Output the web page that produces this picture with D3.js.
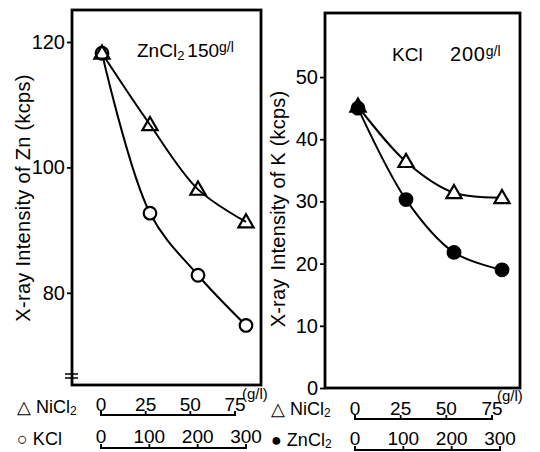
<!DOCTYPE html>
<html><head><meta charset="utf-8">
<script src="https://cdn.jsdelivr.net/npm/d3@7"></script>
<style>body{margin:0;background:#fff}text{font-family:"Liberation Sans",Arial,sans-serif;fill:#000}</style>
</head><body>
<svg id="c" width="540" height="452"></svg>
<script>
// Left panel: ZnCl2 150 g/l, intensity of Zn
const leftNiCl2Conc = [0, 25, 50, 75];
const leftNiCl2Zn = [118.2, 106.8, 96.5, 91.3];
const leftKClConc = [0, 100, 200, 300];
const leftKClZn = [118.2, 92.7, 82.8, 74.8];
const leftYTicks = [80, 100, 120];
// Right panel: KCl 200 g/l, intensity of K
const rightNiCl2Conc = [0, 25, 50, 75];
const rightNiCl2K = [45.3, 36.4, 31.4, 30.6];
const rightZnCl2Conc = [0, 100, 200, 300];
const rightZnCl2K = [45.0, 30.3, 21.8, 19.0];
const rightYTicks = [0, 10, 20, 30, 40, 50];
const niTicks = [0, 25, 50, 75];
const secTicks = [0, 100, 200, 300];

const svg = d3.select("#c");
const FS = 20;

function triangle(g, x, y, fill) {
  g.append("path").attr("d", d3.symbol().type(d3.symbolTriangle).size(100)())
    .attr("transform", `translate(${x},${y + 1})`)
    .attr("fill", fill).attr("stroke", "#000").attr("stroke-width", 2.2);
}
function circle(g, x, y, fill) {
  g.append("circle").attr("cx", x).attr("cy", y).attr("r", 6.3)
    .attr("fill", fill).attr("stroke", "#000").attr("stroke-width", 2.2);
}
function bottomAxis(scale, ticks, y, labelY) {
  const [a, b] = scale.range();
  svg.append("path").attr("d", `M${a},${y - 4}L${a},${y}L${b},${y}L${b},${y - 4}`)
    .attr("fill", "none").attr("stroke", "#000").attr("stroke-width", 2);
  ticks.forEach(t => {
    svg.append("line").attr("x1", scale(t)).attr("x2", scale(t)).attr("y1", y).attr("y2", y - 4)
      .attr("stroke", "#000").attr("stroke-width", 1.8);
    svg.append("text").attr("x", scale(t)).attr("y", labelY).attr("text-anchor", "middle")
      .attr("font-size", 19).text(t);
  });
}

// ---------- left panel ----------
const L = {x0: 72, x1: 261, y0: 10, y1: 385};
const yL = d3.scaleLinear().domain([65.3, 125.1]).range([L.y1, L.y0]);
const xLni = d3.scaleLinear().domain([0, 75]).range([102, 246]);   // data positions
const xLk = d3.scaleLinear().domain([0, 300]).range([102, 246]);
const xLniAxis = d3.scaleLinear().domain([0, 75]).range([101, 235]);
const xLkAxis = d3.scaleLinear().domain([0, 300]).range([101, 246]);

svg.append("rect").attr("x", L.x0).attr("y", L.y0).attr("width", L.x1 - L.x0).attr("height", L.y1 - L.y0)
  .attr("fill", "none").attr("stroke", "#000").attr("stroke-width", 2.8);
const gyL = svg.append("g").attr("transform", `translate(${L.x0},0)`)
  .call(d3.axisLeft(yL).tickValues(leftYTicks).tickSize(5).tickPadding(2));
gyL.select(".domain").remove();
gyL.selectAll("line").attr("stroke-width", 1.8);
gyL.selectAll("text").attr("font-size", FS).attr("font-family", "Liberation Sans, Arial, sans-serif");
// axis break
svg.append("path").attr("d", "M65,374L78,374M65,378L78,378").attr("stroke", "#000").attr("stroke-width", 1.5);

const line = d3.curveCatmullRom.alpha(0.5);
const gL = svg.append("g");
gL.append("path").datum(leftNiCl2Conc.map((c, i) => [xLni(c), yL(leftNiCl2Zn[i])]))
  .attr("d", d3.line().curve(line)).attr("fill", "none").attr("stroke", "#000").attr("stroke-width", 2);
gL.append("path").datum(leftKClConc.map((c, i) => [xLk(c), yL(leftKClZn[i])]))
  .attr("d", d3.line().curve(line)).attr("fill", "none").attr("stroke", "#000").attr("stroke-width", 2);
leftKClConc.forEach((c, i) => circle(gL, xLk(c), yL(leftKClZn[i]), "#fff"));
leftNiCl2Conc.forEach((c, i) => triangle(gL, xLni(c), yL(leftNiCl2Zn[i]), "none"));

svg.append("text").attr("transform", "translate(30,198) rotate(-90)").attr("text-anchor", "middle")
  .attr("font-size", 20).attr("letter-spacing", 0.3).text("X-ray  Intensity of Zn (kcps)");
const tL = svg.append("text").attr("x", 137).attr("y", 57).attr("font-size", 19);
tL.append("tspan").text("ZnCl");
tL.append("tspan").attr("font-size", 13).attr("dy", 3).text("2");
tL.append("tspan").attr("dy", -3).attr("dx", 3).text("150");
tL.append("tspan").attr("font-size", 14).attr("dy", -5).text("g/l");

bottomAxis(xLniAxis, niTicks, 415, 411);
bottomAxis(xLkAxis, secTicks, 448, 443);
svg.append("text").attr("x", 242).attr("y", 399).attr("font-size", 15).text("(g/l)");
const bl1 = svg.append("text").attr("x", 17).attr("y", 413).attr("font-size", 18);
bl1.append("tspan").text("△ NiCl");
bl1.append("tspan").attr("font-size", 12).attr("dy", 2).text("2");
svg.append("text").attr("x", 17).attr("y", 445).attr("font-size", 18).text("○ KCl");

// ---------- right panel ----------
const R = {x0: 325, x1: 520, y0: 13, y1: 388};
const yR = d3.scaleLinear().domain([0, 60.3]).range([R.y1, R.y0]);
const xRni = d3.scaleLinear().domain([0, 75]).range([358, 502]);
const xRzn = d3.scaleLinear().domain([0, 300]).range([358, 502]);
const xRniAxis = d3.scaleLinear().domain([0, 75]).range([355, 492]);
const xRznAxis = d3.scaleLinear().domain([0, 300]).range([355, 500]);

svg.append("rect").attr("x", R.x0).attr("y", R.y0).attr("width", R.x1 - R.x0).attr("height", R.y1 - R.y0)
  .attr("fill", "none").attr("stroke", "#000").attr("stroke-width", 2.8);
const gyR = svg.append("g").attr("transform", `translate(${R.x0},0)`)
  .call(d3.axisLeft(yR).tickValues(rightYTicks).tickSize(5).tickPadding(2));
gyR.select(".domain").remove();
gyR.selectAll("line").attr("stroke-width", 1.8);
gyR.selectAll("text").attr("font-size", FS).attr("font-family", "Liberation Sans, Arial, sans-serif");

const gR = svg.append("g");
gR.append("path").datum(rightNiCl2Conc.map((c, i) => [xRni(c), yR(rightNiCl2K[i])]))
  .attr("d", d3.line().curve(line)).attr("fill", "none").attr("stroke", "#000").attr("stroke-width", 2);
gR.append("path").datum(rightZnCl2Conc.map((c, i) => [xRzn(c), yR(rightZnCl2K[i])]))
  .attr("d", d3.line().curve(line)).attr("fill", "none").attr("stroke", "#000").attr("stroke-width", 2);
rightZnCl2Conc.forEach((c, i) => circle(gR, xRzn(c), yR(rightZnCl2K[i]), "#000"));
rightNiCl2Conc.forEach((c, i) => triangle(gR, xRni(c), yR(rightNiCl2K[i]), i === 0 ? "#000" : "#fff"));

const yt = svg.append("text").attr("transform", "translate(285,209) rotate(-90)").attr("text-anchor", "middle")
  .attr("font-size", 20).attr("letter-spacing", 0.2);
yt.append("tspan").text("X-ray");
yt.append("tspan").attr("dx", 8).text("Intensity of K (kcps)");
svg.append("text").attr("x", 392).attr("y", 61).attr("font-size", 19).text("KCl");
const tR = svg.append("text").attr("x", 450).attr("y", 61).attr("font-size", 20).attr("letter-spacing", 0.8);
tR.append("tspan").text("200");
tR.append("tspan").attr("font-size", 14).attr("letter-spacing", 0).attr("dy", -5).text("g/l");

bottomAxis(xRniAxis, niTicks, 419, 415);
bottomAxis(xRznAxis, secTicks, 450, 445);
svg.append("text").attr("x", 497).attr("y", 401).attr("font-size", 15).text("(g/l)");
const br1 = svg.append("text").attr("x", 271).attr("y", 415).attr("font-size", 18);
br1.append("tspan").text("△ NiCl");
br1.append("tspan").attr("font-size", 12).attr("dy", 2).text("2");
const br2 = svg.append("text").attr("x", 271).attr("y", 446).attr("font-size", 18);
br2.append("tspan").text("● ZnCl");
br2.append("tspan").attr("font-size", 12).attr("dy", 2).text("2");
</script>
</body></html>
